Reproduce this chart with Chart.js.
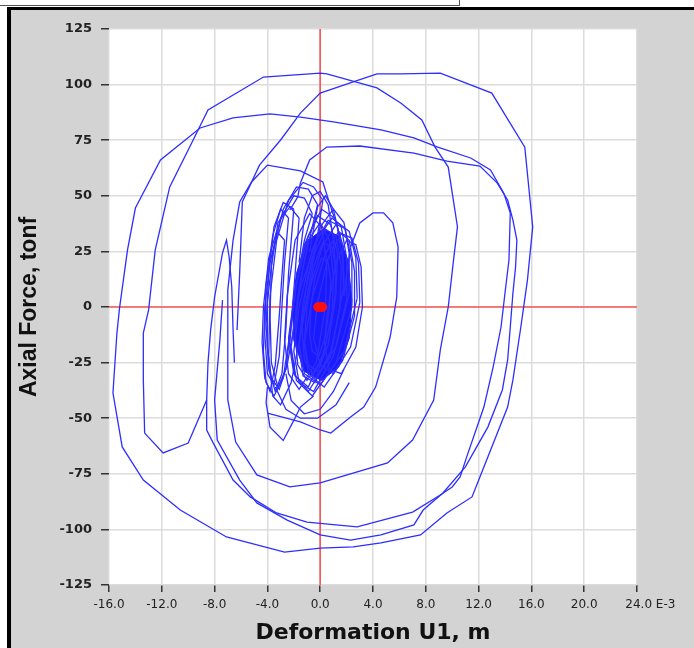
<!DOCTYPE html>
<html>
<head>
<meta charset="utf-8">
<script src="https://cdn.jsdelivr.net/npm/chart.js@4.4.0/dist/chart.umd.min.js"></script>
<style>
  html, body { margin: 0; padding: 0; background: #fff; }
  #frame { position: absolute; left: 7px; top: 7px; width: 687px; height: 641px; background: #d3d3d3;
           border-left: 4px solid #000; border-top: 3px solid #000; box-sizing: border-box; }
  #tab { position: absolute; left: -1px; top: -1px; width: 459px; height: 5px; border: 1px solid #555; background: #fff; }
  #chart { position: absolute; left: 0; top: 0; }
</style>
</head>
<body>
<div id="frame"></div>
<div id="tab"></div>
<canvas id="chart" width="694" height="648"></canvas>
<script>
// Axis ranges / ticks (deformation in E-3 m, force in tonf)
const xTicks = [-16, -12, -8, -4, 0, 4, 8, 12, 16, 20, 24];
const yTicks = [-125, -100, -75, -50, -25, 0, 25, 50, 75, 100, 125];

// Hysteresis branches, [deformation, axial force]
const bigLoopB = [[-6.3,-10.3],[-6.1,15.3],[-5.9,47.2],[-4.6,63.8],[-3.0,75.1],[-1.5,87.2],[0,96.2],[2.5,101.2],[4.3,104.8],[6.1,104.8],[9.1,105.2],[13.0,96.2],[15.5,71.9],[16.1,36.0],[15.7,12.1],[15.2,-9.0],[14.6,-32.8],[14.2,-45.0],[12.1,-76.4],[11.5,-85.4],[9.6,-92.6],[7.6,-102.5],[4.6,-106.1],[2.5,-107.9],[0,-108.4],[-2.7,-110.2],[-7.1,-103.4],[-10.6,-91.3],[-13.4,-77.8],[-15.0,-62.9],[-15.7,-38.7],[-15.4,-11.7],[-15.2,-0.4],[-14.6,25.6],[-14.0,44.5],[-12.1,66.1],[-9.1,80.5],[-6.6,85.0],[-3.8,86.8],[-1.5,85.4],[1.0,83.2],[4.6,79.6],[7.1,76.0],[8.9,71.9],[11.4,67.0],[12.9,61.6],[13.9,51.3],[14.4,42.3],[14.3,21.1],[14.0,6.3],[13.7,-9.0],[13.1,-27.0],[12.4,-45.0],[11.1,-67.4],[10.6,-76.4],[10.0,-80.9],[9.1,-84.5],[7.0,-92.2],[2.8,-98.9],[-1.0,-96.7],[-3.3,-92.6],[-5.3,-85.4],[-6.6,-77.8],[-8.1,-61.2],[-8.6,-55.3],[-8.6,-41.8]];
const dipLoopA = [[-8.6,-41.8],[-10.0,-61.2],[-11.9,-65.6],[-13.3,-56.7],[-13.4,-32.8],[-13.4,-11.7],[-13.0,-1.3],[-12.5,25.6],[-11.4,54.0],[-10.0,70.6],[-8.5,88.6],[-4.3,103.4],[0,105.2],[0.5,104.8],[4.3,98.5],[6.1,91.7],[7.7,84.1],[8.7,71.9],[9.7,62.9],[10.4,36.0],[10.1,21.1],[9.7,0],[9.1,-19.3],[8.6,-41.8],[7.0,-59.8],[5.1,-70.1],[0,-79.1],[-2.3,-80.9],[-4.8,-75.5],[-6.4,-60.7],[-7.0,-41.8],[-7.0,-11.7],[-7.0,7.6],[-6.6,30.1],[-6.1,47.2],[-5.2,56.2],[-4.0,63.8],[-1.5,61.2],[0.2,56.2],[0.8,45.0],[1.3,36.0],[1.7,21.1],[1.8,5]];
const spike = [[-8.6,-41.8],[-8.5,-25],[-8.3,-10.3],[-8.0,4.5],[-7.4,24.3],[-7.1,30.1],[-6.9,22.5],[-6.7,9.0],[-6.6,-10.3],[-6.5,-25]];
const loopT3 = [[-2.3,43.6],[-1.7,49.5],[-1.5,55.8],[-0.8,66.1],[0.5,71.9],[3.0,72.4],[7.1,69.2],[9.6,65.6],[12.1,63.4],[13.4,55.8],[14.2,48.1],[14.6,39.1],[14.9,30.1],[14.8,18.0],[14.6,6.3],[14.4,-9.0],[14.2,-23.8],[13.8,-37.3],[12.7,-54.0],[11.0,-71.9],[9.3,-83.6],[7.8,-91.3],[7.1,-98.0],[4.6,-102.5],[2.3,-104.8],[0,-102.5],[-2.5,-95.8],[-4.8,-88.1],[-6.1,-77.8],[-7.8,-59.8],[-8.0,-41.8],[-7.6,-14.8],[-7.4,3.1]];
const smallRightLoop = [[1.8,5],[2.0,15],[2.3,27.0],[3.0,37.8],[4.0,42.3],[4.8,42.3],[5.5,37.8],[5.9,27.0],[5.8,4.5],[5.3,-13.5],[4.8,-23.8],[4.2,-36.0],[3.3,-45.0],[2.3,-49.5],[0.8,-56.7],[0,-55.3],[-1.5,-51.7],[-4.0,-47.7]];
const vDip = [[-4.0,-36],[-4.1,-43],[-3.8,-54],[-2.8,-60],[-2.0,-51],[-1.5,-45],[-0.5,-40]];
const bottomArc1 = [[-2.6,-30],[-2.2,-42],[-1.2,-48],[0,-46],[1.0,-38],[1.8,-28]];
const bottomArc2 = [[-3.4,-36],[-2.6,-46],[-1.5,-50],[-0.2,-50],[1.2,-44],[2.2,-34]];
const leftLobe1 = [[-0.6,42],[-1.2,49],[-2.0,50],[-3.0,40],[-3.8,20],[-4.2,0],[-4.3,-20],[-4.1,-34],[-3.5,-40],[-2.8,-32],[-2.3,-12],[-1.8,10],[-1.2,30],[-0.6,42]];
const leftLobe2 = [[-0.2,46],[-0.9,53],[-1.8,54],[-2.8,44],[-3.6,24],[-4.0,2],[-4.0,-18],[-3.7,-32],[-3.1,-37],[-2.5,-26],[-1.9,-6],[-1.3,18],[-0.6,36],[-0.2,46]];
const leftLobe3 = [[0.2,48],[-0.5,54],[-1.3,56],[-2.4,48],[-3.3,30],[-3.8,5],[-3.9,-22],[-3.6,-40],[-3.0,-44],[-2.2,-34],[-1.4,-10],[-0.7,15],[-0.1,36],[0.2,48]];
const leftLobe4 = [[-2.4,40],[-3.0,44],[-3.6,32],[-4.1,10],[-4.2,-12],[-4.0,-30],[-3.5,-35],[-3.1,-22],[-2.9,0],[-2.7,20],[-2.4,40]];
const leftLobe5 = [[-2.0,44],[-2.8,47],[-3.5,36],[-3.9,15],[-4.1,-8],[-3.9,-28],[-3.4,-38],[-2.9,-30],[-2.6,-10],[-2.4,15],[-2.0,44]];
const leftLobe6 = [[-1.6,40],[-2.3,45],[-3.2,38],[-3.7,18],[-3.8,-4],[-3.7,-25],[-3.2,-36],[-2.6,-28],[-2.2,-8],[-1.9,15],[-1.6,40]];
const leftLobe7 = [[-2.7,30],[-3.3,34],[-3.9,22],[-4.3,0],[-4.4,-16],[-4.2,-32],[-3.8,-38],[-3.4,-26],[-3.1,-4],[-2.9,14],[-2.7,30]];
const coreArch1 = [[-1.6,20],[-1.2,40],[-0.6,50],[0.0,52],[0.6,46],[1.0,30],[1.2,15]];
const coreArch2 = [[-0.8,25],[-0.2,45],[0.4,50],[1.0,44],[1.6,28]];
const coreLoop1 = [[0.7,0],[0.8,12],[0.6,20],[0.1,22],[-0.4,13],[-0.7,0],[-0.8,-12],[-0.6,-20],[-0.1,-22],[0.4,-13],[0.7,0]];
const coreLoop2 = [[1.1,2],[1.2,16],[0.9,27],[0.2,29],[-0.5,18],[-1.0,0],[-1.2,-16],[-0.9,-26],[-0.2,-29],[0.6,-17],[1.1,2]];
const coreLoop3 = [[1.5,0],[1.6,18],[1.2,32],[0.4,35],[-0.6,22],[-1.3,2],[-1.6,-18],[-1.3,-31],[-0.4,-34],[0.8,-20],[1.5,0]];
const coreLoop4 = [[2.0,3],[2.0,22],[1.6,36],[0.6,39],[-0.6,26],[-1.6,0],[-2.0,-20],[-1.6,-34],[-0.5,-38],[1.0,-22],[2.0,3]];
const coreLoop5 = [[2.4,0],[2.4,20],[1.9,35],[0.9,40],[-0.3,30],[-1.7,5],[-2.2,-18],[-1.8,-33],[-0.6,-40],[1.2,-25],[2.4,0]];
const coreLoop6 = [[2.8,4],[2.7,22],[2.2,34],[1.3,38],[0.2,28],[-1.0,4],[-1.6,-16],[-1.2,-30],[0.0,-35],[1.8,-20],[2.8,4]];
const coreLoop7 = [[0.4,0],[0.5,20],[0.1,36],[-0.8,42],[-1.9,30],[-2.5,5],[-2.7,-15],[-2.4,-30],[-1.6,-37],[-0.3,-25],[0.4,0]];
const coreLoop8 = [[3.0,2],[2.9,20],[2.4,31],[1.6,33],[0.6,22],[-0.2,2],[-0.5,-14],[0.0,-26],[1.0,-30],[2.3,-18],[3.0,2]];
const coreLoop9 = [[1.8,10],[1.7,28],[1.1,40],[0.1,44],[-0.9,32],[-1.9,8],[-2.4,-14],[-2.0,-30],[-0.9,-38],[0.8,-22],[1.8,10]];
const coreLoop10 = [[2.6,-4],[2.6,16],[2.2,30],[1.4,34],[0.4,24],[-0.6,4],[-1.2,-16],[-0.9,-30],[0.3,-36],[1.7,-24],[2.6,-4]];
const coreLoop11 = [[1.2,6],[1.3,24],[0.8,37],[-0.2,41],[-1.2,28],[-2.0,4],[-2.3,-16],[-1.9,-31],[-0.9,-36],[0.3,-20],[1.2,6]];
const coreLoop12 = [[3.2,0],[3.1,18],[2.7,28],[2.0,30],[1.2,20],[0.6,0],[0.3,-16],[0.7,-28],[1.6,-30],[2.7,-18],[3.2,0]];
const coreLoop13 = [[0.9,-4],[1.0,14],[0.7,30],[0.0,38],[-0.9,30],[-1.6,8],[-1.9,-12],[-1.7,-26],[-1.0,-33],[0.1,-24],[0.9,-4]];
const coreLoop14 = [[2.2,6],[2.2,24],[1.8,38],[1.0,44],[0.0,36],[-1.0,12],[-1.4,-8],[-1.2,-24],[-0.4,-32],[1.2,-18],[2.2,6]];
const coreFill = [[-1.8,15],[-1.1,29],[0.2,35],[1.4,32],[2.1,21],[2.4,3],[2.2,-14],[1.4,-27],[0.1,-33],[-1.2,-29],[-2.0,-15],[-2.1,0],[-1.8,15]];

// Red cross-hair through the origin and the current state marker
const crossV = [[0, -125], [0, 125]];
const crossH = [[-16, 0], [24, 0]];
const marker = [[-0.15, 0], [0.15, 0]];

const bluePaths = [bigLoopB, dipLoopA, spike, loopT3, smallRightLoop, vDip, bottomArc1, bottomArc2,
  leftLobe1, leftLobe2, leftLobe3, leftLobe4, leftLobe5, leftLobe6, leftLobe7, coreArch1, coreArch2,
  coreLoop1, coreLoop2, coreLoop3, coreLoop4, coreLoop5, coreLoop6, coreLoop7,
  coreLoop8, coreLoop9, coreLoop10, coreLoop11, coreLoop12, coreLoop13, coreLoop14];

const toXY = arr => arr.map(p => ({ x: p[0], y: p[1] }));
const BLUE = '#2e2eff';
const RED = 'rgba(255, 50, 50, 0.8)';

const datasets = [];
bluePaths.forEach(path => {
  datasets.push({ data: toXY(path), showLine: true, borderColor: BLUE, borderWidth: 1.3,
    pointRadius: 0, tension: 0, fill: false, order: 2 });
});
datasets.push({ data: toXY(coreFill), showLine: true, borderColor: '#1a1aff', borderWidth: 1,
  backgroundColor: '#1a1aff', fill: 'shape', pointRadius: 0, order: 3 });
datasets.push({ data: toXY(crossV), showLine: true, borderColor: RED, borderWidth: 1.6, pointRadius: 0, order: 10 });
datasets.push({ data: toXY(crossH), showLine: true, borderColor: RED, borderWidth: 1.6, pointRadius: 0, order: 10 });
datasets.push({ data: toXY(marker), showLine: false, pointRadius: 4.5, pointBackgroundColor: '#ff1010',
  pointBorderColor: '#ff1010', order: 0 });

const plotBackground = {
  id: 'plotBackground',
  beforeDraw(chart) {
    const { ctx, chartArea: a } = chart;
    ctx.save();
    ctx.fillStyle = '#ffffff';
    ctx.fillRect(a.left, a.top, a.width, a.height);
    ctx.restore();
  }
};

new Chart(document.getElementById('chart'), {
  type: 'scatter',
  data: { datasets },
  plugins: [plotBackground],
  options: {
    responsive: false,
    animation: false,
    layout: { padding: { top: 29, right: 57, left: 0, bottom: 0 } },
    plugins: { legend: { display: false }, tooltip: { enabled: false } },
    scales: {
      x: {
        type: 'linear', min: xTicks[0], max: xTicks[xTicks.length - 1],
        afterFit: s => { s.height = 63; },
        afterBuildTicks: s => { s.ticks = xTicks.map(v => ({ value: v })); },
        ticks: {
          color: '#222', padding: 6, maxRotation: 0, autoSkip: false,
          font: { family: 'DejaVu Sans', size: 12 },
          callback: v => v === 24 ? '       24.0 E-3' : v.toFixed(1)
        },
        grid: { color: '#dcdcdc', lineWidth: 1.5, tickColor: '#333', tickLength: 7, tickWidth: 1.5 },
        border: { display: false },
        title: { display: true, text: 'Deformation U1, m', color: '#111',
          font: { family: 'DejaVu Sans', size: 22, weight: 'bold' }, padding: { top: 0, bottom: 2 } }
      },
      y: {
        type: 'linear', min: yTicks[0], max: yTicks[yTicks.length - 1],
        afterFit: s => { s.width = 109; },
        afterBuildTicks: s => { s.ticks = yTicks.map(v => ({ value: v })); },
        ticks: { color: '#222', padding: 9, autoSkip: false,
          font: { family: 'DejaVu Sans', size: 13, weight: 'bold' } },
        grid: { color: '#dcdcdc', lineWidth: 1.5, tickColor: '#333', tickLength: 8, tickWidth: 1.5 },
        border: { display: false },
        title: { display: true, text: 'Axial Force, tonf', color: '#111',
          font: { family: 'Liberation Sans', size: 23, weight: 'bold' }, padding: { top: 16, bottom: 0 } }
      }
    }
  }
});
</script>
</body>
</html>
